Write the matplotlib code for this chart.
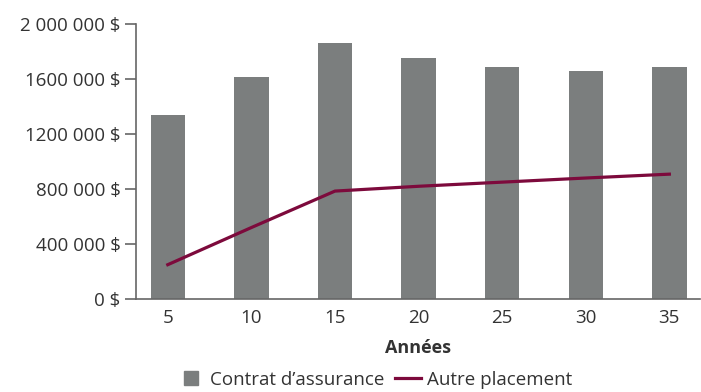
import numpy as np
import matplotlib.pyplot as plt
from matplotlib.lines import Line2D

plt.rcParams['font.family'] = ['Open Sans', 'DejaVu Sans']

# Données
annees = ['5', '10', '15', '20', '25', '30', '35']
contrat_assurance = [1340000, 1615000, 1862000, 1753000, 1687000, 1658000, 1687000]
autre_placement = [250000, 520000, 785000, 820000, 850000, 880000, 908000]
graduations = [0, 400000, 800000, 1200000, 1600000, 2000000]
etiquettes_y = ['0 $', '400 000 $', '800 000 $', '1200 000 $', '1600 000 $', '2 000 000 $']

gris = '#7b7e7e'
bordeaux = '#7d0a3c'
texte = '#333333'

fig = plt.figure(figsize=(7.01, 3.92), dpi=100)
ax = fig.add_axes([0.194, 0.237, 0.805, 0.702])

x = np.arange(len(annees))
ax.bar(x, contrat_assurance, width=0.41, color=gris, zorder=2)
ax.plot(x, autre_placement, color=bordeaux, linewidth=2.3, zorder=3)

ax.set_xlim(-0.38, 6.37)
ax.set_ylim(0, 2000000)
ax.set_yticks(graduations)
ax.set_yticklabels(etiquettes_y)
ax.set_xticks(x)
ax.set_xticklabels(annees)

for cote in ['top', 'right']:
    ax.spines[cote].set_visible(False)
for cote in ['left', 'bottom']:
    ax.spines[cote].set_color('#666666')
    ax.spines[cote].set_linewidth(1.2)

ax.tick_params(axis='y', length=8, width=1.2, color='#666666', labelsize=13.5,
               labelcolor=texte, pad=3)
ax.tick_params(axis='x', length=0, labelsize=13.5, labelcolor=texte, pad=7)

ax.set_xlabel('Années', fontsize=13, fontweight='bold', color=texte, labelpad=9)

poignees = [
    Line2D([], [], marker='s', linestyle='none', color=gris, markersize=9.5),
    Line2D([], [], color=bordeaux, linewidth=2.3),
]
fig.legend(poignees, ['Contrat d’assurance', 'Autre placement'],
           loc='lower center', bbox_to_anchor=(0.535, -0.035), ncol=2,
           frameon=False, fontsize=13.5, handlelength=1.4, handletextpad=0.3,
           columnspacing=0.6, labelcolor=texte)

fig.savefig('out.png', dpi=100)
